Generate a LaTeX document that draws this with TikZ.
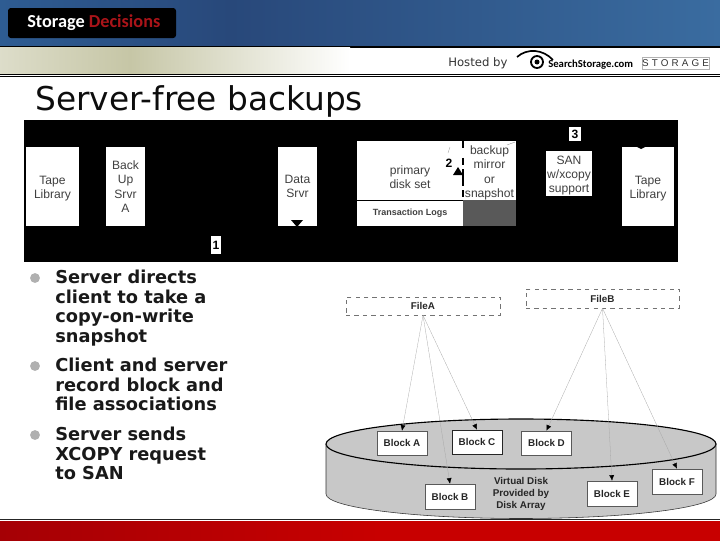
\documentclass[tikz,border=0pt]{standalone}
\usepackage{fontspec}
\usepackage{xcolor}
\usetikzlibrary{arrows.meta,positioning}
\setmainfont{Liberation Sans}
\newfontfamily\verdanafont{DejaVu Sans}
\newfontfamily\logofont{Carlito}
\definecolor{banner}{RGB}{46,92,146}
\definecolor{bannerdark}{RGB}{40,72,122}
\definecolor{bannerlight}{RGB}{58,108,160}
\definecolor{khaki}{RGB}{198,198,166}
\definecolor{logored}{RGB}{170,20,25}
\definecolor{diskgray}{RGB}{200,200,200}
\definecolor{bulletgray}{RGB}{176,176,176}
\definecolor{footred}{RGB}{200,0,0}
\definecolor{footdark}{RGB}{165,0,5}
\setlength{\unitlength}{0.025cm}
\tikzset{
    whitebox/.style={fill=white,inner sep=0pt,align=center,font=\fontsize{8.6}{10.2}\selectfont,text=black!75},
    numbox/.style={fill=white,inner sep=0pt,font=\fontsize{8.6}{10}\selectfont\bfseries},
    blockbox/.style={draw=black!65,fill=white,minimum width=50\unitlength,inner sep=0pt,font=\fontsize{7}{8}\selectfont\bfseries,text=black!85},
    filebox/.style={draw=black!55,dashed,fill=white,inner sep=0pt,font=\fontsize{7}{8}\selectfont\bfseries,text=black!85},
    filelink/.style={draw=black!35,very thin,-{Latex[length=4pt,width=3.5pt,black]}},
    bulletdot/.style={circle,fill=bulletgray,minimum size=7pt,inner sep=0pt},
    bullettext/.style={anchor=north west,align=left,inner sep=0pt,font=\verdanafont\fontsize{12.65}{13.9}\selectfont\bfseries,text=black!90}
}
\begin{document}
\begin{tikzpicture}[x=0.025cm,y=-0.025cm]
    \useasboundingbox (0,0) rectangle (720,540);
    % top banner
    \shade[left color=banner,right color=bannerdark] (0,0) rectangle (230,46);
    \shade[left color=bannerdark,right color=bannerlight] (230,0) rectangle (720,46);
    \fill[black] (0,46) rectangle (720,47.5);
    \shade[left color=khaki!60,right color=khaki] (0,47.5) rectangle (130,74);
    \shade[left color=khaki,right color=white] (130,47.5) rectangle (350,74);
    \fill[black] (0,74) rectangle (720,75);
    \fill[black] (0,76) rectangle (720,77);
    \fill[black,rounded corners=2pt] (8,8) rectangle (176,38);
    \node[anchor=west,inner sep=0pt,font=\logofont\fontsize{13}{14}\selectfont\bfseries] (logo) at (27,23)
        {\textcolor{white}{Storage} \textcolor{logored}{Decisions}};
    % hosted by
    \node[anchor=west,inner sep=0pt,font=\verdanafont\fontsize{8.3}{9}\selectfont,text=black!80] (hosted) at (448,63) {Hosted by};
    \draw[black,line width=1.2pt] (517,57) .. controls (527,48) and (543,49) .. (553,60);
    \draw[black,line width=1.3pt] (537,62) circle (6);
    \fill[black] (537,62) circle (2.5);
    \node[anchor=west,inner sep=0pt,font=\logofont\fontsize{7.6}{8}\selectfont\bfseries] (search) at (548,65) {SearchStorage.com};
    \node[draw=black!30,minimum width=67\unitlength,minimum height=12\unitlength,inner sep=0pt,font=\fontsize{7}{8}\selectfont,text=black!80] (storage) at (675.5,63)
        {S\kern2.2pt T\kern2.2pt O\kern2.2pt R\kern2.2pt A\kern2.2pt G\kern2.2pt E};
    % title
    \node[anchor=west,inner sep=0pt,font=\verdanafont\fontsize{23.3}{26}\selectfont,text=black!95] (title) at (35,101) {Server-free backups};
    % black panel
    \fill[black] (24,120) rectangle (678,262);
    \node[whitebox,minimum width=37.5pt,minimum height=56.2pt] (tapeA) at (52.5,186.5) {\rule{0pt}{9pt}Tape\\Library};
    \node[whitebox,minimum width=27.7pt,minimum height=56.2pt] (backup) at (125.5,186.5) {Back\\Up\\Srvr\\A};
    \node[whitebox,minimum width=27.7pt,minimum height=56.2pt] (data) at (297.5,186.5) {Data\\Srvr};
    \fill[black] (291,220) -- (303,220) -- (297,227) -- cycle;
    \node[numbox,minimum width=7pt,minimum height=12.8pt] (one) at (216,245) {1};
    \node[whitebox,minimum width=75.4pt,minimum height=41.9pt] (primary) at (410,170.5) {\rule{0pt}{16pt}primary\\disk set};
    \node[whitebox,anchor=north,minimum width=75.4pt,minimum height=18pt,font=\fontsize{6.4}{7}\selectfont\bfseries] (logs) at (410,200.6) {Transaction Logs};
    \node[whitebox,minimum width=37.7pt,minimum height=41.9pt] (mirror) at (489.5,170.5) {\rule{0pt}{9.5pt}backup\\mirror\\or\\snapshot};
    \fill[black!65] (463,200) rectangle (516,226);
    \draw[black,line width=1.2pt,dash pattern=on 5pt off 7pt on 5pt off 3pt on 12pt off 3pt] (463,141) -- (463,200);
    \fill[black] (458,167) -- (453,175) -- (463,175) -- cycle;
    \node[font=\fontsize{8.6}{10}\selectfont\bfseries,inner sep=0pt] (two) at (449,163) {2};
    \draw[black!50,very thin] (448,153) -- (450,147);
    \draw[black!50,very thin] (507,145) -- (515,142);
    \node[numbox,minimum width=8pt,minimum height=10pt] (three) at (575,134) {3};
    \node[whitebox,minimum width=32.7pt,minimum height=32pt] (san) at (569,173.5) {\rule{0pt}{9pt}SAN\\w/xcopy\\support};
    \node[whitebox,minimum width=37.5pt,minimum height=56.2pt] (tapeB) at (648,186.5) {\rule{0pt}{9pt}Tape\\Library};
    \fill[black] (637,147) -- (645,147) -- (641,149) -- cycle;
    % bullets
    \node[bulletdot] (dotA) at (35,278) {};
    \node[bullettext] (textA) at (55,270) {Server directs\\client to take a\\copy-on-write\\snapshot};
    \node[bulletdot] (dotB) at (35,366) {};
    \node[bullettext] (textB) at (55,358) {Client and server\\record block and\\file associations};
    \node[bulletdot] (dotC) at (35,435) {};
    \node[bullettext] (textC) at (55,427) {Server sends\\XCOPY request\\to SAN};
    % disk
    \fill[diskgray] (326,444) -- (326,494) arc[start angle=180,end angle=0,x radius=195,y radius=24.5] -- (716,444) -- cycle;
    \fill[diskgray] (521,444) ellipse [x radius=195,y radius=25];
    \draw[black,thick] (521,444) ellipse [x radius=195,y radius=25];
    \draw[black!80] (326,444) -- (326,494) arc[start angle=180,end angle=0,x radius=195,y radius=24.5] -- (716,444);
    \node[blockbox,minimum height=24\unitlength] (blockA) at (402,443) {Block A};
    \node[blockbox,minimum height=24\unitlength,draw=black!85] (blockC) at (477,442) {Block C};
    \node[blockbox,minimum height=24\unitlength] (blockD) at (546.5,443) {Block D};
    \node[blockbox,minimum height=25\unitlength] (blockB) at (450,496.5) {Block B};
    \node[blockbox,minimum height=25\unitlength] (blockE) at (612,493.5) {Block E};
    \node[blockbox,minimum height=25\unitlength] (blockF) at (677,481.5) {Block F};
    \node[align=center,inner sep=0pt,font=\fontsize{7}{8.6}\selectfont\bfseries,text=black!85] (virtual) at (521,494) {Virtual Disk\\Provided by\\Disk Array};
    % files
    \node[filebox,minimum width=154\unitlength,minimum height=18\unitlength] (fileA) at (423,306) {FileA};
    \node[filebox,minimum width=153\unitlength,minimum height=19\unitlength] (fileB) at (602.5,298.5) {FileB};
    \draw[filelink] (fileA.south) -- (blockA.north);
    \draw[filelink] (fileA.south) -- (blockB.north);
    \draw[filelink] (fileA.south) -- (blockC.north);
    \draw[filelink] (fileB.south) -- (blockD.north);
    \draw[filelink] (fileB.south) -- (blockE.north);
    \draw[filelink] (fileB.south) -- (blockF.north);
    % footer
    \fill[black!85] (0,518.5) rectangle (720,519.5);
    \fill[white] (0,519.5) rectangle (720,521);
    \fill[footred] (0,521) rectangle (720,542);
    \shade[left color=footdark,right color=footred] (0,521) rectangle (380,542);
\end{tikzpicture}
\end{document}
